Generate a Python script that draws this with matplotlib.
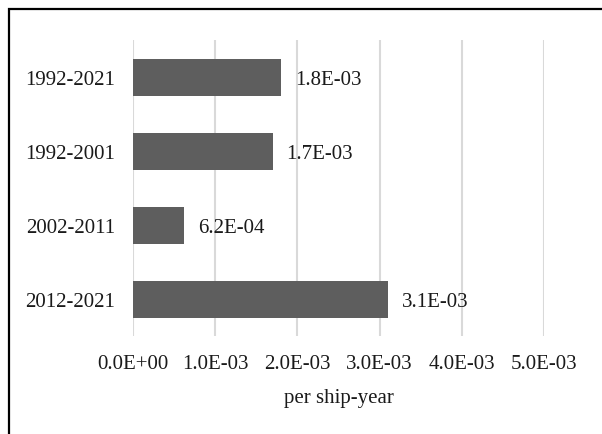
import matplotlib.pyplot as plt
from matplotlib.patches import Rectangle

# data
periods = ['1992-2021', '1992-2001', '2002-2011', '2012-2021']
rates = [1.8e-3, 1.7e-3, 6.2e-4, 3.1e-3]
rate_labels = ['1.8E-03', '1.7E-03', '6.2E-04', '3.1E-03']
x_ticks = [0, 1e-3, 2e-3, 3e-3, 4e-3, 5e-3]
x_tick_labels = ['0.0E+00', '1.0E-03', '2.0E-03', '3.0E-03', '4.0E-03', '5.0E-03']

plt.rcParams['font.family'] = ['Liberation Serif', 'DejaVu Serif']
fs = 15

fig = plt.figure(figsize=(6.02, 4.35), dpi=100)
ax = fig.add_axes([133 / 602, 1 - 337 / 435, (544 - 133) / 602, (337 - 41) / 435])

pos = list(range(len(periods)))
ax.barh(pos, rates, height=0.5, color='#5e5e5e', zorder=3)
for p, r, lab in zip(pos, rates, rate_labels):
    ax.annotate(lab, (r, p), xytext=(10, -2), textcoords='offset points',
                ha='left', va='center', fontsize=fs, color='#1a1a1a', zorder=4)

ax.set_ylim(len(periods) - 0.5, -0.5)
ax.set_yticks(pos)
ax.set_yticklabels(periods, fontsize=fs, color='#1a1a1a', va='center_baseline')
ax.set_xlim(0, 5e-3)
ax.set_xticks(x_ticks)
ax.set_xticklabels(x_tick_labels, fontsize=fs, color='#1a1a1a')
ax.tick_params(axis='y', length=0, pad=13)
ax.tick_params(axis='x', length=0, pad=13)
ax.grid(axis='x', color='#d9d9d9', linewidth=1.5, zorder=0)
for s in ax.spines.values():
    s.set_visible(False)
ax.set_xlabel('per ship-year', fontsize=fs, color='#1a1a1a', labelpad=11)

# frame around the chart area (cut off on the right and bottom)
fig.patches.append(Rectangle((9 / 602, -0.05), 1.0, 1 - 10 / 435 + 0.05,
                             transform=fig.transFigure, fill=False,
                             edgecolor='black', linewidth=1.6))

fig.savefig('out.png', dpi=100)
